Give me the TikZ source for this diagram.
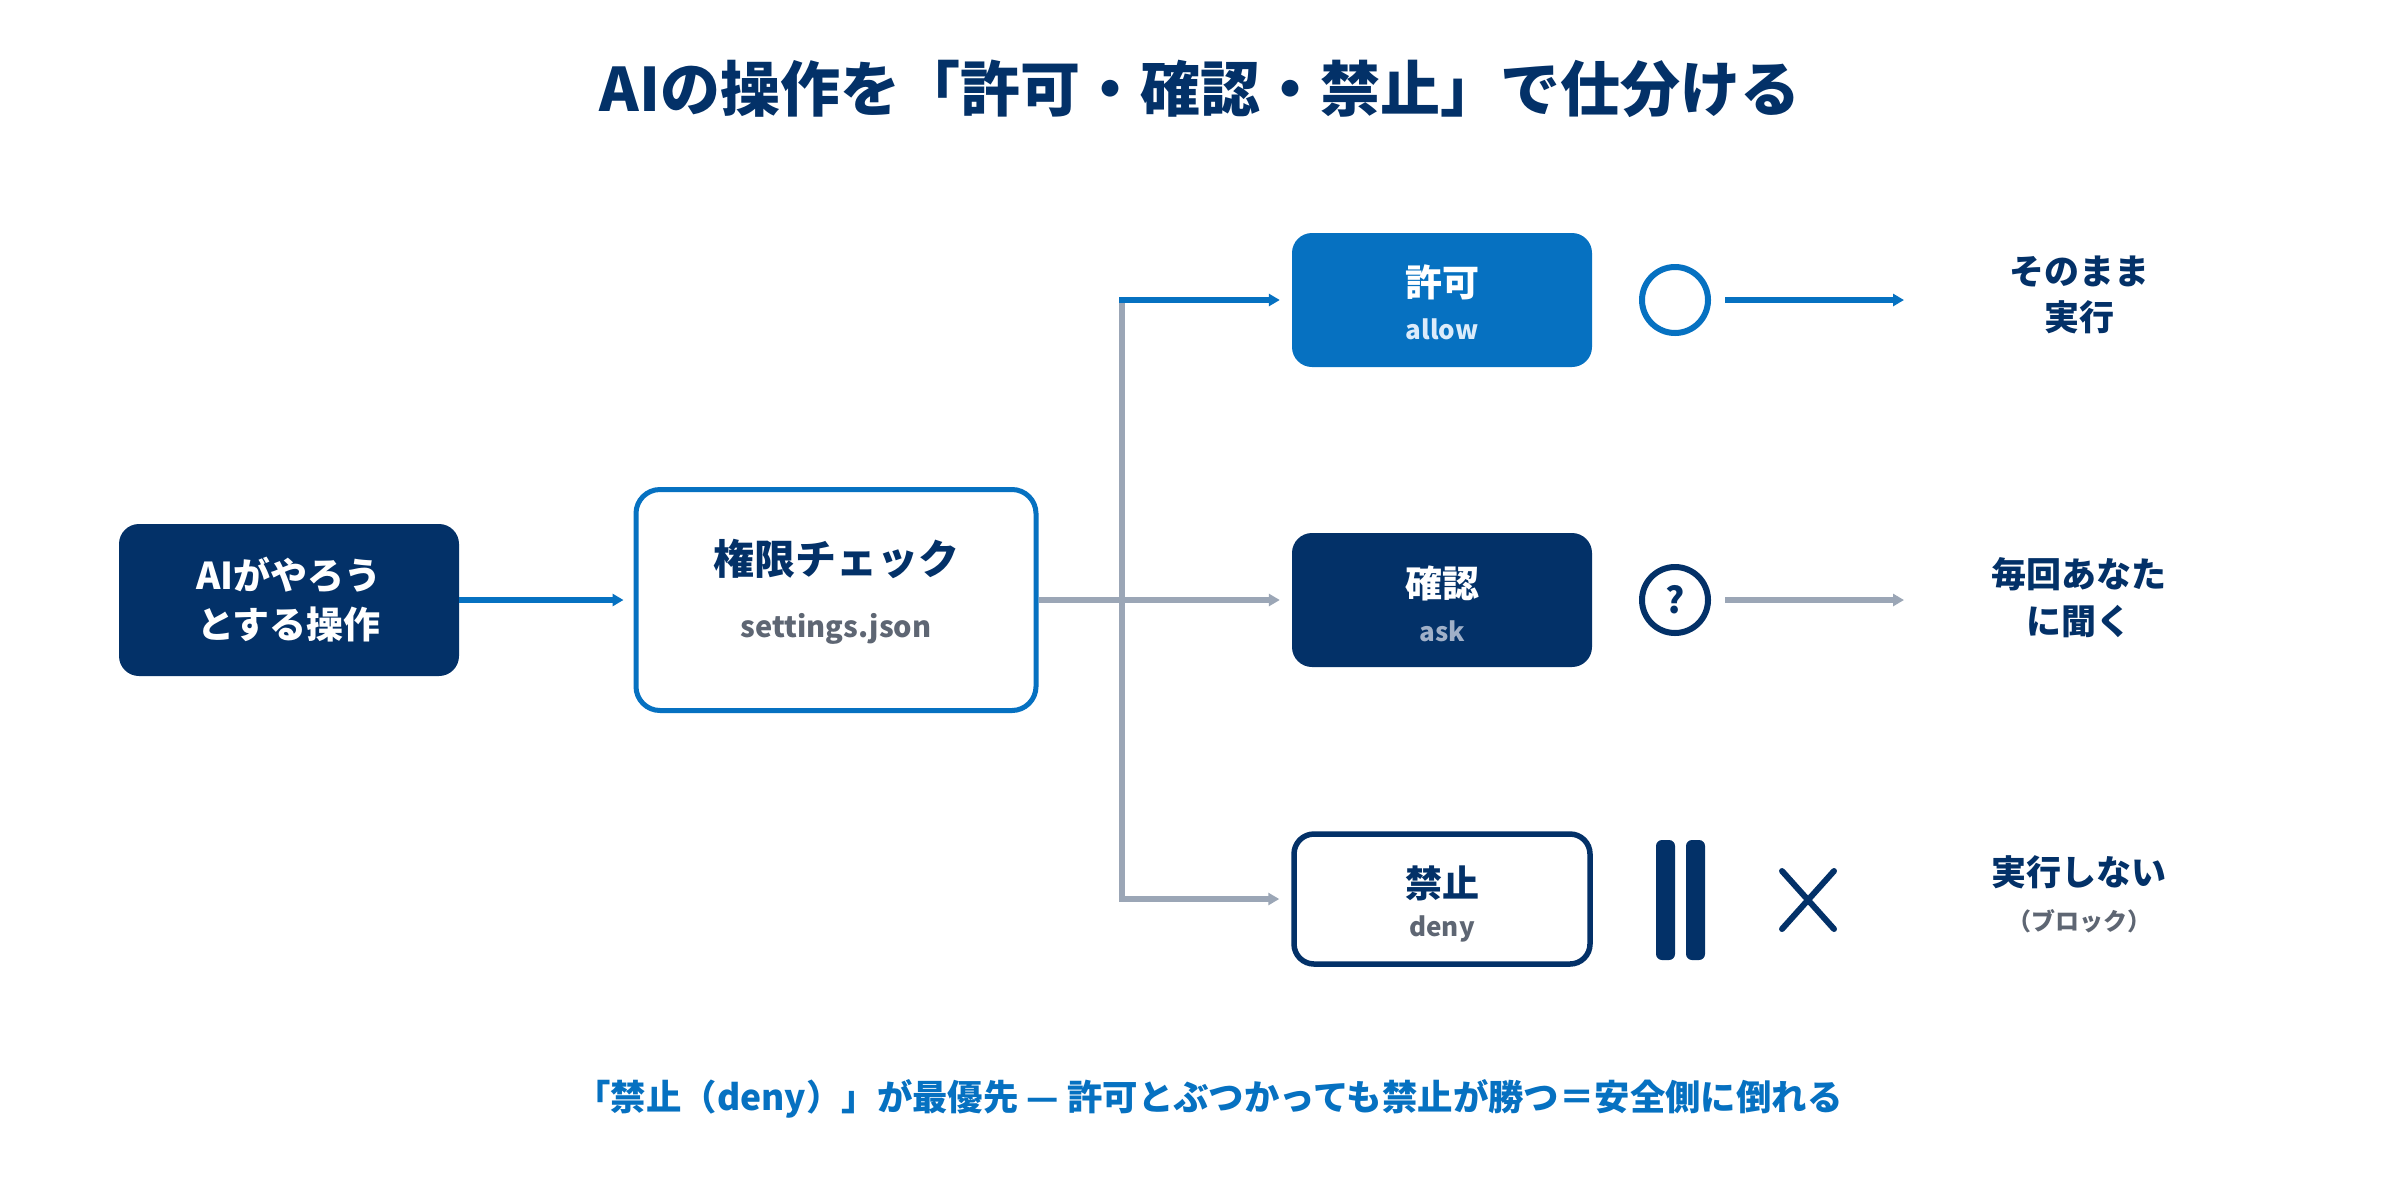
\documentclass[tikz,border=0pt]{standalone}
\usepackage{fontspec}
\setmainfont{Noto Sans CJK JP}
\usetikzlibrary{arrows.meta}
\definecolor{navy}{HTML}{033168}
\definecolor{blu}{HTML}{0671C1}
\definecolor{gline}{HTML}{9BA6B6}
\definecolor{gtext}{HTML}{5E6673}
\definecolor{asktext}{HTML}{A0B0C8}
\definecolor{allowtext}{HTML}{DCEBFA}
\newcommand{\fsz}[1]{\fontsize{#1}{#1}\selectfont}
\tikzset{
  box/.style={rectangle, rounded corners=20pt, inner sep=0pt, minimum width=300pt, minimum height=134pt},
  lbl/.style={inner sep=0pt, font=\bfseries\fsz{#1}, align=center},
  conn/.style={line width=6pt, -{Triangle[length=11pt,width=12pt]}},
  ring/.style={circle, draw, line width=6pt, minimum size=66pt, inner sep=0pt},
}
\begin{document}
\begin{tikzpicture}[x=1pt,y=-1pt]
\useasboundingbox[fill=white] (0,0) rectangle (2400,1200);

\node[lbl=60, text=navy] (title) at (1200,89) {AIの操作を「許可・確認・禁止」で仕分ける};

% left box
\node[box, fill=navy, minimum width=340pt, minimum height=152pt] (op) at (289,600) {};
\node[lbl=37, text=white, font=\bfseries\fontsize{37}{49}\selectfont] (optxt) at (289,600) {AIがやろう\\とする操作};

% check box
\node[box, draw=blu, line width=5pt, fill=white, minimum width=400pt, minimum height=221pt, rounded corners=24pt] (check) at (836,600) {};
\node[lbl=41, text=navy] (checkt) at (836,559) {権限チェック};
\node[lbl=29, text=gtext] (checks) at (836,629) {settings.json};

% right boxes
\node[box, fill=blu] (allow) at (1442,300) {};
\node[lbl=37, text=white] (allowt) at (1442,282) {許可};
\node[lbl=26, text=allowtext] (allows) at (1442,329) {allow};

\node[box, fill=navy] (ask) at (1442,600) {};
\node[lbl=37, text=white] (askt) at (1442,583) {確認};
\node[lbl=26, text=asktext] (asks) at (1442,631) {ask};

\node[box, draw=navy, line width=5.5pt, fill=white, minimum width=296pt, minimum height=130pt] (deny) at (1442,899) {};
\node[lbl=37, text=navy] (denyt) at (1442,883) {禁止};
\node[lbl=26, text=gtext] (denys) at (1442,929) {deny};

% connectors
\draw[conn, blu, shorten >=10pt] (op.east) -- (check.west);
\coordinate (trtop) at (1122,300);
\coordinate (trbot) at (1122,899);
\draw[gline, line width=6pt] (trtop) -- (trbot);
\draw[conn, gline, shorten >=12pt] (check.east) -- (ask.west);
\draw[conn, blu, shorten >=12pt] ([xshift=-3pt]trtop) -- (allow.west);
\draw[conn, gline, shorten >=12pt] ([xshift=-3pt]trbot) -- (deny.west);

% symbols
\node[ring, draw=blu] (okc) at (1675,300) {};
\node[ring, draw=navy] (qc) at (1675,600) {};
\node[lbl=36, text=navy] (qm) at (1675,600) {?};
\fill[navy, rounded corners=6pt] (1656,840) rectangle (1675,960);
\fill[navy, rounded corners=6pt] (1686,840) rectangle (1705,960);
\draw[navy, line width=6pt, line cap=round] (1782,871) -- (1834,929) (1782,929) -- (1834,871);

\coordinate (okend) at (1904,300);
\coordinate (qend) at (1904,600);
\draw[conn, blu, shorten <=14pt] (okc.east) -- (okend);
\draw[conn, gline, shorten <=14pt] (qc.east) -- (qend);

% results
\node[lbl=35, text=navy, font=\bfseries\fontsize{35}{46}\selectfont] (r1) at (2079,295) {そのまま\\実行};
\node[lbl=35, text=navy, font=\bfseries\fontsize{35}{47}\selectfont] (r2) at (2079,598) {毎回あなた\\に聞く};
\node[lbl=35, text=navy] (r3) at (2079,872) {実行しない};
\node[lbl=24, text=gtext] (r3b) at (2079,921) {（ブロック）};

% footer
\node[lbl=35.4, text=blu] (note) at (1209,1099) {「禁止（deny）」が最優先 — 許可とぶつかっても禁止が勝つ＝安全側に倒れる};
\end{tikzpicture}
\end{document}
